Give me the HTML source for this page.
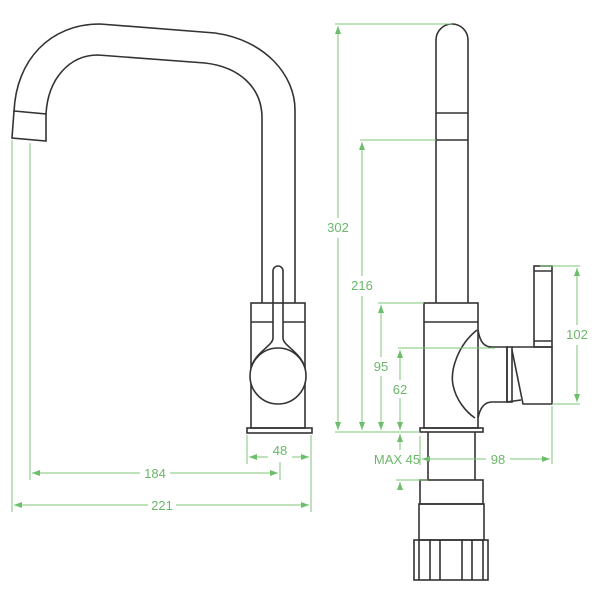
<!DOCTYPE html>
<html><head><meta charset="utf-8"><style>html,body{margin:0;padding:0;background:#fff}</style></head>
<body>
<svg width="600" height="600" viewBox="0 0 600 600" xmlns="http://www.w3.org/2000/svg">
<defs>
<marker id="a" markerWidth="8" markerHeight="6" refX="8" refY="3" orient="auto-start-reverse" markerUnits="userSpaceOnUse"><path d="M0,0 L8,3 L0,6 Z" fill="#6bbf6b"/></marker>
</defs>
<g fill="none" stroke="#333" stroke-width="1.6">
<path d="M14,112 C16,60 50,24 100,24 L215,33 C265,40 295,75 295,110 L295,303"/>
<path d="M46,114 C48,78 70,55 98,55 L205,63 C240,67 262,88 262,118 L262,303"/>
<path d="M14,111 L46,114 L46,141 L12,138 Z"/>
<path d="M273,322 L273,271 A5,5 0 0 1 283,271 L283,322"/>
<rect x="251" y="303" width="54" height="125"/>
<line x1="251" y1="322" x2="273" y2="322"/><line x1="283" y1="322" x2="305" y2="322"/>
<path d="M273,322 L273,338 C273,346 255,352 251,368"/>
<path d="M283,322 L283,338 C283,346 301,352 305,368"/>
<circle cx="278" cy="376" r="28" fill="#fff"/>
<rect x="247" y="428" width="65" height="5"/>
<path d="M436,303 L436,40 A16,16 0 0 1 468,40 L468,303"/>
<line x1="436" y1="113" x2="468" y2="113"/><line x1="436" y1="140" x2="468" y2="140"/>
<rect x="424" y="303" width="54" height="125"/>
<line x1="424" y1="322" x2="478" y2="322"/>
<path d="M477,330 C458,345 450,370 453,385 C456,400 466,412 475,418"/>
<path d="M478,330 C480,342 484,347 492,347 L507,347 L507,402 L492,402 C484,402 480,408 478,418"/>
<rect x="507" y="347" width="5" height="55"/>
<path d="M512,347 L552,347 L552,404 L523,404 L512,350"/>
<path d="M507,402 L521,400"/>
<rect x="534" y="266" width="18" height="81"/>
<line x1="534" y1="271" x2="552" y2="271"/><line x1="534" y1="341" x2="552" y2="341"/>
<rect x="420" y="428" width="63" height="4"/>
<path d="M428,432 L428,480 M475,432 L475,480"/>
<rect x="420" y="480" width="63" height="24"/>
<rect x="419" y="504" width="65" height="36"/>
<rect x="414" y="540" width="74" height="40"/>
<path d="M419,540 L419,580 M430,540 L430,580 M440,540 L440,580 M462,540 L462,580 M472,540 L472,580 M483,540 L483,580"/>
</g>
<g fill="none" stroke="#7cc77a" stroke-width="1">
<path d="M12,140 L12,512 M30,143 L30,480 M247,435 L247,464 M311,435 L311,512 M280,462 L280,480"/>
<line x1="249" y1="457" x2="268" y2="457" marker-start="url(#a)"/>
<line x1="292" y1="457" x2="309" y2="457" marker-end="url(#a)"/>
<line x1="32" y1="473" x2="140" y2="473" marker-start="url(#a)"/>
<line x1="170" y1="473" x2="278" y2="473" marker-end="url(#a)"/>
<line x1="14" y1="505" x2="148" y2="505" marker-start="url(#a)"/>
<line x1="176" y1="505" x2="309" y2="505" marker-end="url(#a)"/>
<path d="M335,24 L452,24 M360,140 L436,140 M378,303 L424,303 M398,348 L495,348 M335,432 L420,432 M540,266 L580,266 M552,404 L580,404 M552,406 L552,464 M420,436 L420,465 M396,480 L428,480"/>
<line x1="338" y1="218" x2="338" y2="26" marker-end="url(#a)"/>
<line x1="338" y1="238" x2="338" y2="430" marker-end="url(#a)"/>
<line x1="362" y1="276" x2="362" y2="142" marker-end="url(#a)"/>
<line x1="362" y1="296" x2="362" y2="430" marker-end="url(#a)"/>
<line x1="381" y1="357" x2="381" y2="305" marker-end="url(#a)"/>
<line x1="381" y1="376" x2="381" y2="430" marker-end="url(#a)"/>
<line x1="400" y1="380" x2="400" y2="350" marker-end="url(#a)"/>
<line x1="400" y1="398" x2="400" y2="430" marker-end="url(#a)"/>
<line x1="400" y1="450" x2="400" y2="434" marker-end="url(#a)"/>
<line x1="400" y1="490" x2="400" y2="482" marker-end="url(#a)"/>
<line x1="577" y1="325" x2="577" y2="268" marker-end="url(#a)"/>
<line x1="577" y1="345" x2="577" y2="402" marker-end="url(#a)"/>
<line x1="486" y1="459" x2="422" y2="459" marker-end="url(#a)"/>
<line x1="510" y1="459" x2="550" y2="459" marker-end="url(#a)"/>
</g>
<g fill="#6bb86b" font-family="Liberation Sans, sans-serif" font-size="13" text-anchor="middle">
<text x="280" y="455">48</text>
<text x="155" y="478">184</text>
<text x="162" y="510">221</text>
<text x="338" y="232">302</text>
<text x="362" y="290">216</text>
<text x="381" y="371">95</text>
<text x="400" y="394">62</text>
<text x="397" y="464">MAX 45</text>
<text x="498" y="464">98</text>
<text x="577" y="339">102</text>
</g>
</svg>
</body></html>
